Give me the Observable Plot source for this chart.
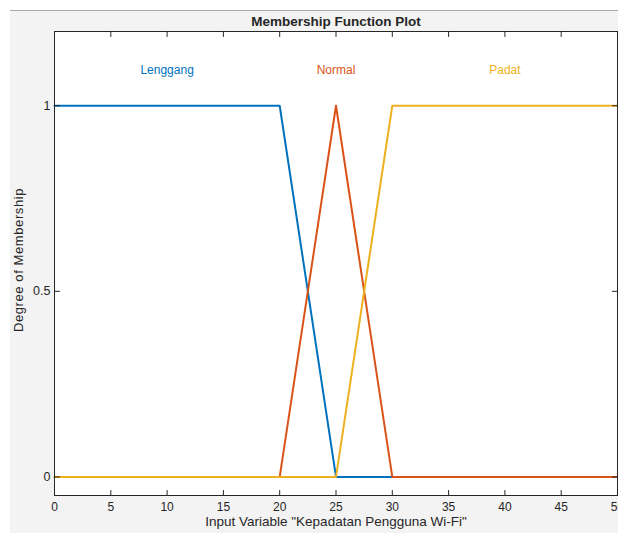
<!DOCTYPE html>
<html><head><meta charset="utf-8">
<script src="https://cdn.jsdelivr.net/npm/d3@7"></script>
<script src="https://cdn.jsdelivr.net/npm/@observablehq/plot@0.6"></script>
<style>
html,body{margin:0;padding:0;background:#fff;overflow:hidden;width:618px;height:533px}
#bg{position:absolute;left:10px;top:10px;width:608px;height:523px;background:#f3f3f3;border-top:1px solid #a8a8a8}
#chart{position:absolute;left:0;top:0}
</style></head><body><div id="bg"></div><div id="chart"></div>
<script>
const seriesNames = ["Lenggang", "Normal", "Padat"];
const lenggangX = [0, 20, 25, 50];
const lenggangY = [1, 1, 0, 0];
const normalX = [0, 20, 25, 30, 50];
const normalY = [0, 0, 1, 0, 0];
const padatX = [0, 25, 30, 50];
const padatY = [0, 0, 1, 1];
const labelX = [10, 25, 40];
const labelY = [1.095, 1.095, 1.095];
const colors = ["#0072BD", "#D95319", "#EDB120"];
const xTicks = [0, 5, 10, 15, 20, 25, 30, 35, 40, 45, 50];
const yTicks = [0, 0.5, 1];
const yTickLabels = ["0", "0.5", "1"];
const titleText = "Membership Function Plot";
const xLabel = 'Input Variable "Kepadatan Pengguna Wi-Fi"';
const yLabel = "Degree of Membership";

const xs = [lenggangX, normalX, padatX];
const ys = [lenggangY, normalY, padatY];
const rows = [];
seriesNames.forEach((name, i) => xs[i].forEach((x, j) => rows.push({name, x, y: ys[i][j]})));
const labels = seriesNames.map((name, i) => ({name, x: labelX[i], y: labelY[i]}));

const font = "Liberation Sans, Arial, sans-serif";
const ink = "#262626";
const tick = {draw(ctx, l) { ctx.moveTo(0, 0); ctx.lineTo(0, -l); }};

const chart = Plot.plot({
  width: 618, height: 533,
  marginLeft: 54, marginRight: 1, marginTop: 31, marginBottom: 38,
  style: {background: "transparent", fontFamily: font, fontSize: "12px", color: ink, overflow: "visible"},
  x: {domain: [0, 50]},
  y: {domain: [-0.05, 1.2]},
  color: {domain: seriesNames, range: colors},
  marks: [
    Plot.frame({fill: "white", stroke: null}),
    Plot.line(rows, {x: "x", y: "y", z: "name", stroke: "name", strokeWidth: 2}),
    Plot.text(labels, {x: "x", y: "y", text: "name", fill: "name", fontSize: 12}),
    Plot.frame({stroke: ink, strokeWidth: 1}),
    Plot.vector(xTicks, {x: d => d, frameAnchor: "bottom", length: 5, anchor: "start", rotate: 0, shape: tick, stroke: ink, strokeWidth: 1}),
    Plot.vector(xTicks, {x: d => d, frameAnchor: "top", length: 5, anchor: "start", rotate: 180, shape: tick, stroke: ink, strokeWidth: 1}),
    Plot.vector(yTicks, {y: d => d, frameAnchor: "left", length: 5, anchor: "start", rotate: 90, shape: tick, stroke: ink, strokeWidth: 1}),
    Plot.vector(yTicks, {y: d => d, frameAnchor: "right", length: 5, anchor: "start", rotate: -90, shape: tick, stroke: ink, strokeWidth: 1}),
    Plot.axisX({ticks: xTicks, tickSize: 0, tickPadding: 6.5, label: null, fill: ink, fontSize: 12}),
    Plot.axisY({ticks: yTicks, tickFormat: (d) => yTickLabels[yTicks.indexOf(d)], tickSize: 0, tickPadding: 4, label: null, fill: ink, fontSize: 12.5}),
    Plot.text([titleText], {text: d => d, frameAnchor: "top", lineAnchor: "middle", dy: -10, fontWeight: "bold", fontSize: 13.5, fill: ink}),
    Plot.text([xLabel], {text: d => d, frameAnchor: "bottom", lineAnchor: "middle", dy: 26, fontSize: 13.5, fill: ink}),
    Plot.text([yLabel], {text: d => d, frameAnchor: "left", textAnchor: "middle", lineAnchor: "middle", dx: -36, dy: -3.5, rotate: -90, fontSize: 13, fill: ink})
  ]
});
d3.select(chart).selectAll("text").filter(function() { return this.textContent === yLabel; }).attr("letter-spacing", "0.6px");
document.getElementById("chart").appendChild(chart);
</script></body></html>
